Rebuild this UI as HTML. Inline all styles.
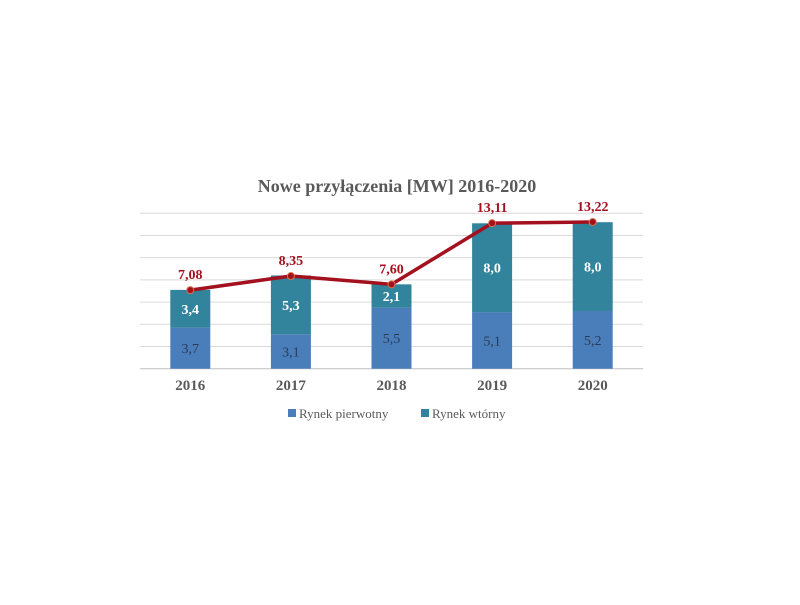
<!DOCTYPE html>
<html><head><meta charset="utf-8"><style>
body{margin:0;background:#fff;}
svg text{font-family:"Liberation Serif",serif;}
</style></head><body>
<svg id="chart" width="800" height="600" xmlns="http://www.w3.org/2000/svg">
<text x="397" y="192" text-anchor="middle" font-size="18" font-weight="bold" fill="#595959">Nowe przyłączenia [MW] 2016-2020</text>
<g id="grid"></g><g id="bars"></g><g id="line"></g><g id="xaxis"></g>
<g>
<rect x="288" y="409" width="8" height="8" fill="#4a7ebb"/>
<text x="299" y="418" font-size="13" fill="#595959">Rynek pierwotny</text>
<rect x="421" y="409" width="8" height="8" fill="#31849b"/>
<text x="432" y="418" font-size="13" fill="#595959">Rynek wtórny</text>
</g>
</svg>
<script>
const categories=["2016","2017","2018","2019","2020"];
const primary=[3.7,3.1,5.5,5.1,5.2];
const secondary=[3.4,5.3,2.1,8.0,8.0];
const totals=[7.08,8.35,7.60,13.11,13.22];
const yTicks=[0,2,4,6,8,10,12,14];
const NS="http://www.w3.org/2000/svg";
const left=140,right=643,y0=368.7,yMax=14,yTop=213.3;
const band=(right-left)/categories.length;
const xc=i=>left+band*(i+0.5);
const y=v=>y0-(v/yMax)*(y0-yTop);
const fmt=(v,d)=>v.toFixed(d).replace('.',',');
function mk(tag,attrs,parent,txt){const e=document.createElementNS(NS,tag);for(const k in attrs)e.setAttribute(k,attrs[k]);if(txt!==undefined)e.textContent=txt;document.getElementById(parent).appendChild(e);return e;}
yTicks.forEach(t=>{const l=mk('line',{x1:left,x2:right,y1:y(t),y2:y(t),stroke:t===0?'#bfbfbf':'#d9d9d9','stroke-width':1},'grid');

});
const bw=40;
categories.forEach((c,i)=>{
 const b1=mk('rect',{x:xc(i)-bw/2,y:y(primary[i]),width:bw,height:y0-y(primary[i]),fill:'#4a7ebb'},'bars');
 
 
 const b2=mk('rect',{x:xc(i)-bw/2,y:y(primary[i]+secondary[i]),width:bw,height:y(primary[i])-y(primary[i]+secondary[i]),fill:'#31849b'},'bars');
 
 
 const t1=mk('text',{x:xc(i),y:(y0+y(primary[i]))/2+5,'text-anchor':'middle','font-size':14,fill:'#2b3a55'},'bars',fmt(primary[i],1));
 
 
 const t2=mk('text',{x:xc(i),y:(y(primary[i])+y(primary[i]+secondary[i]))/2+5,'text-anchor':'middle','font-size':14,'font-weight':'bold',fill:'#fff'},'bars',fmt(secondary[i],1));
 
 
 const xl=mk('text',{x:xc(i),y:390,'text-anchor':'middle','font-size':15,'font-weight':'bold',fill:'#595959'},'xaxis',c);
 
 
});
const pts=totals.map((v,i)=>xc(i)+','+y(v)).join(' ');
const pl=mk('polyline',{points:pts,fill:'none',stroke:'#a3111f','stroke-width':3.5,'stroke-linejoin':'round'},'line');


totals.forEach((v,i)=>{
 const m=mk('circle',{cx:xc(i),cy:y(v),r:3.5,fill:'#a3111f',stroke:'#d9734e','stroke-width':1},'line');
 
 
 const t=mk('text',{x:xc(i),y:y(v)-11,'text-anchor':'middle','font-size':14,'font-weight':'bold',fill:'#a3111f'},'line',fmt(v,2));
 
 
});
</script>
</body></html>
